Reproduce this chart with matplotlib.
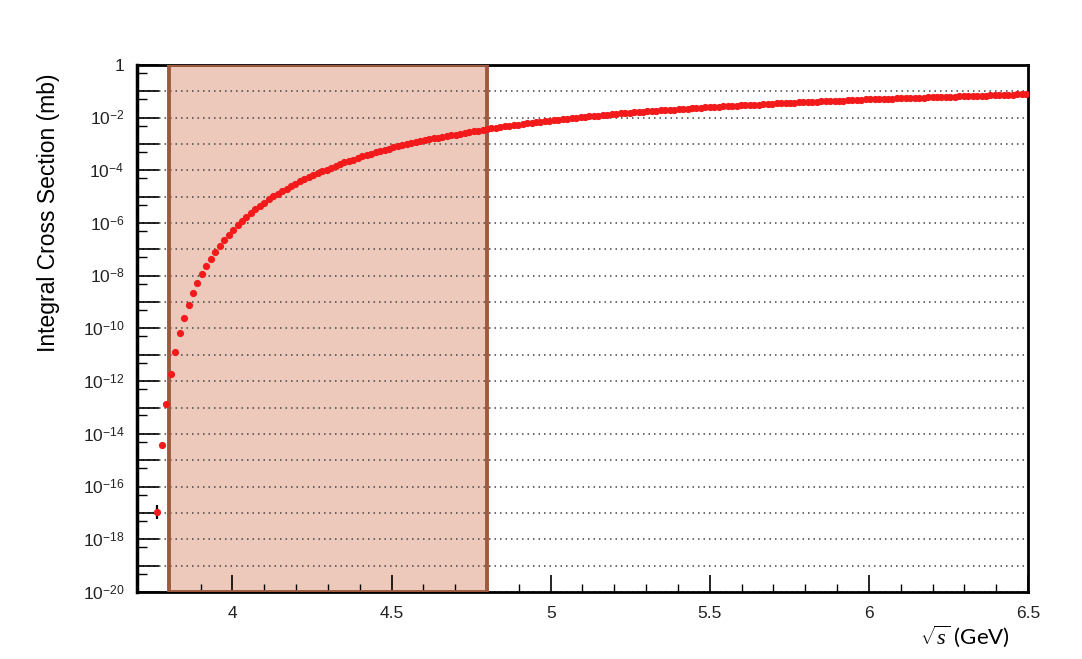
import numpy as np
import matplotlib
matplotlib.use("Agg")
import matplotlib.pyplot as plt
from matplotlib.ticker import FixedLocator, FuncFormatter, MultipleLocator

plt.rcParams["font.family"] = ["Liberation Sans", "DejaVu Sans"]
plt.rcParams["mathtext.fontset"] = "custom"
plt.rcParams["mathtext.rm"] = "Liberation Sans"
plt.rcParams["mathtext.it"] = "Liberation Serif:italic"

# sqrt(s) sampling points (GeV)
sqrt_s = [
    3.764, 3.778, 3.792, 3.806, 3.820, 3.834, 3.848, 3.862, 3.876, 3.890,
    3.904, 3.918, 3.932, 3.946, 3.960, 3.974, 3.988, 4.002, 4.016, 4.030,
    4.044, 4.058, 4.072, 4.086, 4.100, 4.114, 4.128, 4.142, 4.156, 4.170,
    4.184, 4.198, 4.212, 4.226, 4.240, 4.254, 4.268, 4.282, 4.296, 4.310,
    4.324, 4.338, 4.352, 4.366, 4.380, 4.394, 4.408, 4.422, 4.436, 4.450,
    4.464, 4.478, 4.492, 4.506, 4.520, 4.534, 4.548, 4.562, 4.576, 4.590,
    4.604, 4.618, 4.632, 4.646, 4.660, 4.674, 4.688, 4.702, 4.716, 4.730,
    4.744, 4.758, 4.772, 4.786, 4.800, 4.814, 4.828, 4.842, 4.856, 4.870,
    4.884, 4.898, 4.912, 4.926, 4.940, 4.954, 4.968, 4.982, 4.996, 5.010,
    5.024, 5.038, 5.052, 5.066, 5.080, 5.094, 5.108, 5.122, 5.136, 5.150,
    5.164, 5.178, 5.192, 5.206, 5.220, 5.234, 5.248, 5.262, 5.276, 5.290,
    5.304, 5.318, 5.332, 5.346, 5.360, 5.374, 5.388, 5.402, 5.416, 5.430,
    5.444, 5.458, 5.472, 5.486, 5.500, 5.514, 5.528, 5.542, 5.556, 5.570,
    5.584, 5.598, 5.612, 5.626, 5.640, 5.654, 5.668, 5.682, 5.696, 5.710,
    5.724, 5.738, 5.752, 5.766, 5.780, 5.794, 5.808, 5.822, 5.836, 5.850,
    5.864, 5.878, 5.892, 5.906, 5.920, 5.934, 5.948, 5.962, 5.976, 5.990,
    6.004, 6.018, 6.032, 6.046, 6.060, 6.074, 6.088, 6.102, 6.116, 6.130,
    6.144, 6.158, 6.172, 6.186, 6.200, 6.214, 6.228, 6.242, 6.256, 6.270,
    6.284, 6.298, 6.312, 6.326, 6.340, 6.354, 6.368, 6.382, 6.396, 6.410,
    6.424, 6.438, 6.452, 6.466, 6.480, 6.494,
]

# log10 of integral cross section (mb)
log_sigma = [
    -16.96, -14.41, -12.85, -11.73, -10.88, -10.17, -9.59, -9.11, -8.66, -8.28,
    -7.93, -7.63, -7.35, -7.10, -6.86, -6.65, -6.44, -6.26, -6.08, -5.91,
    -5.76, -5.62, -5.48, -5.36, -5.23, -5.10, -4.98, -4.89, -4.79, -4.69,
    -4.60, -4.51, -4.42, -4.34, -4.26, -4.18, -4.11, -4.04, -3.97, -3.90,
    -3.83, -3.76, -3.70, -3.64, -3.59, -3.53, -3.47, -3.42, -3.37, -3.32,
    -3.27, -3.22, -3.18, -3.13, -3.09, -3.04, -3.01, -2.97, -2.93, -2.89,
    -2.85, -2.82, -2.79, -2.76, -2.73, -2.70, -2.67, -2.64, -2.61, -2.58,
    -2.55, -2.52, -2.49, -2.46, -2.43, -2.41, -2.38, -2.36, -2.33, -2.31,
    -2.28, -2.26, -2.24, -2.22, -2.20, -2.17, -2.15, -2.13, -2.11, -2.09,
    -2.08, -2.06, -2.04, -2.02, -2.00, -1.98, -1.97, -1.95, -1.93, -1.92,
    -1.90, -1.89, -1.87, -1.86, -1.84, -1.83, -1.81, -1.80, -1.79, -1.77,
    -1.76, -1.75, -1.74, -1.72, -1.71, -1.70, -1.69, -1.68, -1.67, -1.66,
    -1.65, -1.64, -1.62, -1.61, -1.60, -1.59, -1.58, -1.57, -1.56, -1.55,
    -1.54, -1.53, -1.52, -1.52, -1.51, -1.50, -1.49, -1.48, -1.47, -1.46,
    -1.46, -1.45, -1.44, -1.43, -1.42, -1.41, -1.41, -1.40, -1.39, -1.38,
    -1.38, -1.37, -1.36, -1.36, -1.35, -1.34, -1.33, -1.33, -1.32, -1.31,
    -1.31, -1.30, -1.30, -1.29, -1.28, -1.28, -1.27, -1.27, -1.26, -1.25,
    -1.25, -1.24, -1.24, -1.23, -1.23, -1.22, -1.21, -1.21, -1.20, -1.20,
    -1.19, -1.19, -1.18, -1.18, -1.17, -1.17, -1.16, -1.15, -1.15, -1.14,
    -1.14, -1.13, -1.13, -1.12, -1.12, -1.11,
]

# highlighted energy window
band_lo, band_hi = 3.8, 4.8

sigma = 10.0 ** np.array(log_sigma)

fig = plt.figure(figsize=(10.82, 6.59), dpi=100)
ax = fig.add_axes([0.1266, 0.1017, 0.8235, 0.7997])

# shaded window: fill below grid, edge above spines
ax.axvspan(band_lo, band_hi, facecolor="#edc9bc", edgecolor="none", zorder=0.5)
ax.axvspan(band_lo, band_hi, facecolor="none", edgecolor="#9e5a3e", linewidth=2.8, zorder=3)

# first point carries a visible error bar
ax.errorbar(sqrt_s[0], sigma[0], yerr=[[sigma[0] * (1 - 10 ** -0.27)], [sigma[0] * (10 ** 0.27 - 1)]],
            fmt="none", ecolor="black", elinewidth=1.6, zorder=4)
ax.plot(sqrt_s, sigma, "o", color="#f21a1a", markersize=5.2, markeredgewidth=0, zorder=5)

ax.set_yscale("log")
ax.set_xlim(3.7, 6.5)
ax.set_ylim(1e-20, 1)

decades = [10.0 ** -n for n in range(0, 21)]
ax.yaxis.set_major_locator(FixedLocator(decades))
ax.yaxis.set_minor_locator(FixedLocator([5 * 10.0 ** -n for n in range(1, 21)]))


def ylab(v, pos):
    n = int(round(np.log10(v)))
    if n == 0:
        return "1"
    if n % 2:
        return ""
    return r"$10^{%d}$" % n


ax.yaxis.set_major_formatter(FuncFormatter(ylab))
ax.xaxis.set_major_locator(MultipleLocator(0.5))
ax.xaxis.set_minor_locator(MultipleLocator(0.1))
ax.xaxis.set_major_formatter(FuncFormatter(lambda v, p: "%g" % v))

ax.tick_params(axis="both", which="both", direction="in", colors="black", labelcolor="#222222",
               labelsize=12.5)
ax.tick_params(axis="x", which="major", length=12, width=1.2, pad=10)
ax.tick_params(axis="x", which="minor", length=6, width=1.0)
ax.tick_params(axis="y", which="major", length=16, width=1.2, pad=9)
ax.tick_params(axis="y", which="minor", length=7, width=1.0)
ax.tick_params(top=False, right=False, which="both")

ax.grid(axis="y", which="major", linestyle=(0, (1, 2.6)), color="#444444", linewidth=1.1)

for side, sp in ax.spines.items():
    sp.set_color("black")
    sp.set_linewidth(2.0)
ax.spines["left"].set_linewidth(2.5)

ax.set_ylabel("Integral Cross Section (mb)", fontsize=16.5)
ax.yaxis.set_label_coords(-0.086, 0.72)

fig.text(965 / 1082, 1 - 636 / 659, r"$\sqrt{s}$ (GeV)", fontsize=16, ha="center", va="center",
         family=["Lato", "DejaVu Sans"])

fig.savefig("out.png", dpi=100)
